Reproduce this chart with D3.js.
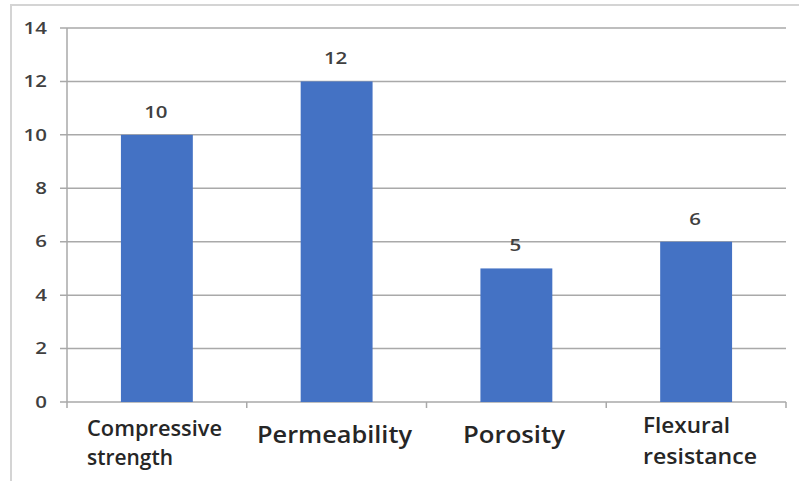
<!DOCTYPE html>
<html>
<head>
<meta charset="utf-8">
<script src="https://cdn.jsdelivr.net/npm/d3@7"></script>
<style>
  html, body { margin: 0; padding: 0; background: #fff; }
  svg { display: block; }
</style>
</head>
<body>
<script>
// Chart data
const categories = ["Compressive strength", "Permeability", "Porosity", "Flexural resistance"];
const values = [10, 12, 5, 6];
const yTicks = [0, 2, 4, 6, 8, 10, 12, 14];
// Category label lines and font sizes
const labelLines = [["Compressive", "strength"], ["Permeability"], ["Porosity"], ["Flexural", "resistance"]];
const labelSizes = [21, 24, 24, 21];
// Rendered widths of each label line
const labelWidths = [[135, 86], [155], [102], [87, 114]];

const W = 799, H = 481;
const margin = { left: 67, right: 13, top: 28, bottom: 79 };
const font = "'Open Sans', 'Noto Sans', sans-serif";
const textColor = "#262626";

const svg = d3.select("body").append("svg").attr("width", W).attr("height", H);

// Outer frame
svg.append("rect")
  .attr("x", 11).attr("y", 5).attr("width", W + 20).attr("height", H + 20)
  .attr("fill", "#fff").attr("stroke", "#d4d4d4").attr("stroke-width", 2);

const x = d3.scaleBand().domain(categories).range([margin.left, W - margin.right]).paddingInner(0).paddingOuter(0);
const y = d3.scaleLinear().domain([0, 14]).range([H - margin.bottom, margin.top]);

// Gridlines with left tick stubs
svg.append("g").selectAll("line").data(yTicks).join("line")
  .attr("x1", margin.left - 7).attr("x2", W - margin.right)
  .attr("y1", d => y(d)).attr("y2", d => y(d))
  .attr("stroke", "#a9a9a9").attr("stroke-width", 1.5);

// Y axis line
svg.append("line")
  .attr("x1", margin.left).attr("x2", margin.left)
  .attr("y1", y(14)).attr("y2", y(0) + 6)
  .attr("stroke", "#a9a9a9").attr("stroke-width", 1.5);

// Category boundary ticks
const bounds = categories.map(c => x(c)).concat([x(categories[categories.length - 1]) + x.bandwidth()]);
svg.append("g").selectAll("line").data(bounds.slice(1)).join("line")
  .attr("x1", d => d).attr("x2", d => d)
  .attr("y1", y(0)).attr("y2", y(0) + 6)
  .attr("stroke", "#a9a9a9").attr("stroke-width", 1.5);

// Y tick labels
svg.append("g").selectAll("text").data(yTicks).join("text")
  .attr("transform", d => `translate(47,${y(d)}) scale(1.28,1)`)
  .attr("dy", "0.36em")
  .attr("text-anchor", "end")
  .attr("font-family", font).attr("font-size", 16).attr("font-weight", 600)
  .attr("fill", "#404040")
  .text(d => d);

// Bars
const barW = x.bandwidth() * 0.4;
svg.append("g").selectAll("rect").data(values).join("rect")
  .attr("x", (d, i) => x(categories[i]) + (x.bandwidth() - barW) / 2)
  .attr("y", d => y(d))
  .attr("width", barW)
  .attr("height", d => y(0) - y(d))
  .attr("fill", "#4472c4");

// Value labels
svg.append("g").selectAll("text").data(values).join("text")
  .attr("transform", (d, i) => `translate(${x(categories[i]) + x.bandwidth() / 2 - 1},${y(d) - 17}) scale(1.28,1)`)
  .attr("text-anchor", "middle")
  .attr("font-family", font).attr("font-size", 16).attr("font-weight", 600)
  .attr("fill", "#404040")
  .text(d => d);

// Category labels
const labelX = [87, 257, 463, 643];
const labelY = [436, 443, 443, 433];
const lineGap = [29, 0, 0, 31];
categories.forEach((c, i) => {
  labelLines[i].forEach((line, j) => {
    svg.append("text")
      .attr("x", labelX[i]).attr("y", labelY[i] + j * lineGap[i])
      .attr("font-family", font).attr("font-size", labelSizes[i])
      .attr("font-weight", 600).attr("fill", textColor)
      .attr("textLength", labelWidths[i][j]).attr("lengthAdjust", "spacingAndGlyphs")
      .text(line);
  });
});
</script>
</body>
</html>
